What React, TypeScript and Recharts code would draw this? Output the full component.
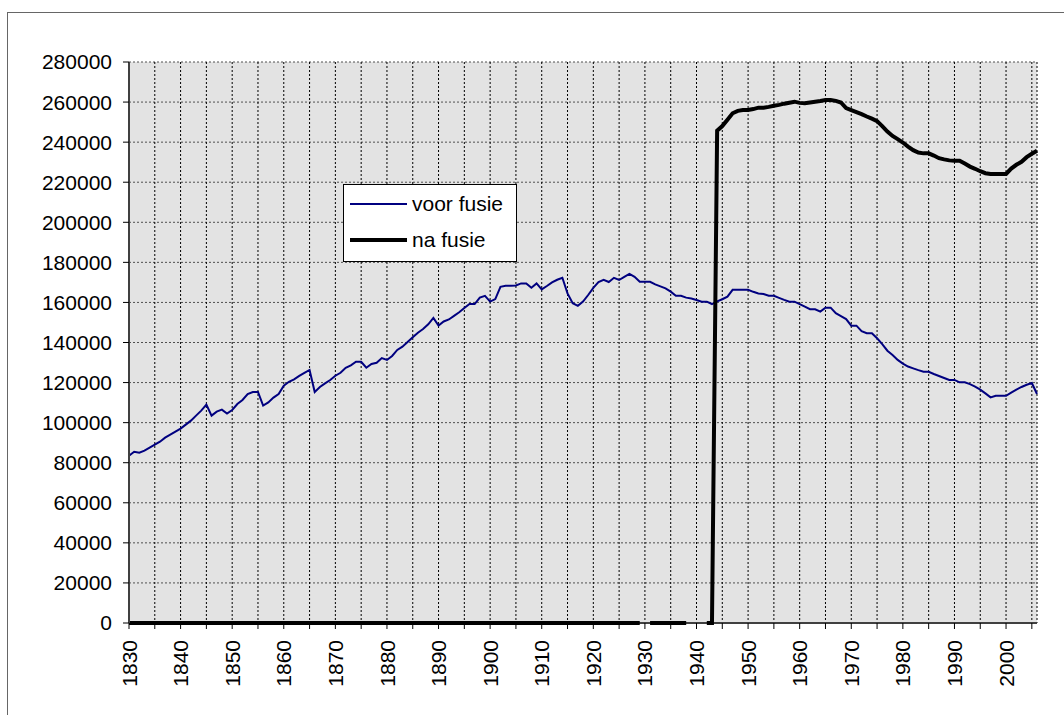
import { LineChart, Line, XAxis, YAxis, CartesianGrid, Legend, ReferenceLine } from 'recharts'

const FIRST_YEAR = 1830

// one value per year, 1830 .. 2006
const VOOR_FUSIE = [
  83500, 85500, 85000, 86000, 87500, 89000, 90500, 92500, 94000, 95500,
  97000, 99000, 101000, 103500, 106000, 109000, 103500, 105500, 106500, 104500,
  106300, 109300, 111300, 114300, 115300, 115300, 108500, 110100, 112500, 114300,
  118400, 120400, 121600, 123300, 124800, 126300, 115300, 117800, 119600, 121300,
  123400, 124900, 127400, 128600, 130400, 130400, 127400, 129300, 129900, 132200,
  131300, 133300, 136300, 137900, 140200, 142600, 144900, 146700, 149100, 152300,
  148500, 150500, 151500, 153300, 155100, 157200, 159200, 159200, 162400, 163300,
  160400, 161700, 167800, 168300, 168300, 168500, 169500, 169500, 167300, 169500,
  166500, 168200, 170000, 171300, 172300, 164500, 159600, 158300, 160400, 163700,
  167300, 170200, 171300, 170200, 172300, 171200, 172800, 174200, 172800, 170300,
  170300, 170300, 169000, 168000, 167000, 165400, 163300, 163300, 162400, 162000,
  161200, 160400, 160400, 159200, 160500, 161600, 162900, 166300, 166300, 166300,
  166300, 165300, 164500, 164200, 163300, 163300, 162300, 161300, 160400, 160400,
  159200, 157900, 156600, 156600, 155400, 157400, 157400, 154600, 153200, 151700,
  148400, 148400, 145700, 144600, 144600, 142100, 139200, 135900, 133800, 131300,
  129500, 128000, 127100, 126200, 125400, 125400, 124300, 123300, 122300, 121300,
  121300, 120100, 120100, 119200, 118000, 116500, 114600, 112600, 113400, 113400,
  113400, 115000, 116500, 117800, 118900, 119800, 114300,
]

const NA_FUSIE = [
  0, 0, 0, 0, 0, 0, 0, 0, 0, 0,
  0, 0, 0, 0, 0, 0, 0, 0, 0, 0,
  0, 0, 0, 0, 0, 0, 0, 0, 0, 0,
  0, 0, 0, 0, 0, 0, 0, 0, 0, 0,
  0, 0, 0, 0, 0, 0, 0, 0, 0, 0,
  0, 0, 0, 0, 0, 0, 0, 0, 0, 0,
  0, 0, 0, 0, 0, 0, 0, 0, 0, 0,
  0, 0, 0, 0, 0, 0, 0, 0, 0, 0,
  0, 0, 0, 0, 0, 0, 0, 0, 0, 0,
  0, 0, 0, 0, 0, 0, 0, 0, 0, 0,
  null, 0, 0, 0, 0, 0, 0, 0, 0, null,
  null, null, 0, 0, 245700, 248000, 251200, 254400, 255600, 256000,
  256000, 256500, 257200, 257200, 257600, 258200, 258600, 259200, 259700, 260200,
  259600, 259400, 259800, 260200, 260500, 261000, 261000, 260600, 259800, 257000,
  256000, 255000, 254000, 252800, 251700, 250500, 248000, 245300, 243100, 241500,
  239800, 237800, 236000, 234800, 234400, 234400, 233300, 232000, 231400, 230900,
  230700, 230700, 229300, 227800, 226700, 225500, 224500, 224100, 224100, 224100,
  224100, 226800, 228700, 230200, 232500, 234200, 235700,
]

const X_TICKS = [
  1830, 1835, 1840, 1845, 1850, 1855, 1860, 1865, 1870, 1875, 1880, 1885,
  1890, 1895, 1900, 1905, 1910, 1915, 1920, 1925, 1930, 1935, 1940, 1945,
  1950, 1955, 1960, 1965, 1970, 1975, 1980, 1985, 1990, 1995, 2000, 2005,
]

const Y_TICKS = [
  0, 20000, 40000, 60000, 80000, 100000, 120000, 140000,
  160000, 180000, 200000, 220000, 240000, 260000, 280000,
]

const FONT = '"Liberation Sans", Arial, sans-serif'

const data = VOOR_FUSIE.map((v, i) => ({
  year: FIRST_YEAR + i,
  voor: v,
  na: NA_FUSIE[i],
}))

function YearTick({ x, y, payload }: any) {
  if (payload.value % 10 !== 0) return <g />
  return (
    <text
      x={x}
      y={y}
      transform={`rotate(-90, ${x}, ${y})`}
      textAnchor="end"
      dy="0.36em"
      fontSize={21}
      fontFamily={FONT}
      fill="#000"
    >
      {payload.value}
    </text>
  )
}

function LegendBox() {
  const rows = [
    { label: 'voor fusie', color: '#000080', width: 2, top: 20 },
    { label: 'na fusie', color: '#000', width: 4, top: 56 },
  ]
  return (
    <div
      style={{
        position: 'relative',
        boxSizing: 'border-box',
        width: 174,
        height: 78,
        border: '1px solid #000',
        background: '#fff',
        fontFamily: FONT,
        fontSize: 21,
      }}
    >
      {rows.map((r) => (
        <div key={r.label}>
          <div
            style={{
              position: 'absolute',
              left: 6,
              top: r.top - 1 - r.width / 2,
              width: 57,
              height: r.width,
              background: r.color,
            }}
          />
          <div
            style={{
              position: 'absolute',
              left: 68,
              top: r.top - 13,
              lineHeight: '24px',
              whiteSpace: 'nowrap',
            }}
          >
            {r.label}
          </div>
        </div>
      ))}
    </div>
  )
}

export default function App() {
  return (
    <div style={{ position: 'absolute', left: 0, top: 0, width: 1064, height: 715 }}>
      <div
        style={{
          position: 'absolute',
          left: 7,
          top: 12,
          width: 1057,
          height: 703,
          boxSizing: 'border-box',
          borderLeft: '1px solid #666',
          borderTop: '1px solid #666',
        }}
      />
      <LineChart
        width={1064}
        height={715}
        data={data}
        margin={{ top: 62, right: 27, bottom: 0, left: 0 }}
      >
        <CartesianGrid
          xAxisId="main"
          yAxisId="main"
          fill="#e3e3e3"
          vertical={false}
          stroke="#505050"
          strokeDasharray="2 2"
        />
        <CartesianGrid
          xAxisId="main"
          yAxisId="main"
          horizontal={false}
          stroke="#000"
          strokeDasharray="2 2"
        />
        <XAxis
          xAxisId="main"
          dataKey="year"
          type="number"
          domain={[1830, 2006]}
          ticks={X_TICKS}
          interval={0}
          height={92}
          tickSize={6}
          tickMargin={11}
          tick={<YearTick />}
          tickLine={{ stroke: '#000' }}
          axisLine={false}
        />
        <XAxis
          xAxisId="top"
          orientation="top"
          dataKey="year"
          type="number"
          domain={[1830, 2006]}
          height={0}
          tick={false}
          tickLine={false}
          axisLine={{ stroke: '#8a8a8a', strokeWidth: 2 }}
        />
        <YAxis
          yAxisId="main"
          domain={[0, 280000]}
          ticks={Y_TICKS}
          interval={0}
          width={129}
          tickSize={6}
          tickMargin={11}
          tick={{ fontSize: 21, fontFamily: FONT, fill: '#000' }}
          tickLine={{ stroke: '#000' }}
          axisLine={{ stroke: '#404040', strokeWidth: 2 }}
        />
        <YAxis
          yAxisId="right"
          orientation="right"
          domain={[0, 280000]}
          width={0}
          tick={false}
          tickLine={false}
          axisLine={{ stroke: '#8a8a8a', strokeWidth: 2 }}
        />
        <ReferenceLine
          xAxisId="main"
          yAxisId="main"
          y={0}
          stroke="#404040"
          strokeWidth={2}
        />
        <Legend
          layout="vertical"
          align="center"
          verticalAlign="middle"
          wrapperStyle={{ left: 343, top: 184, width: 174, height: 78 }}
          content={() => <LegendBox />}
        />
        <Line
          xAxisId="main"
          yAxisId="main"
          dataKey="voor"
          name="voor fusie"
          stroke="#000080"
          strokeWidth={2}
          dot={false}
          activeDot={false}
          isAnimationActive={false}
        />
        <Line
          xAxisId="main"
          yAxisId="main"
          dataKey="na"
          name="na fusie"
          stroke="#000"
          strokeWidth={4}
          dot={false}
          activeDot={false}
          isAnimationActive={false}
        />
      </LineChart>
    </div>
  )
}
